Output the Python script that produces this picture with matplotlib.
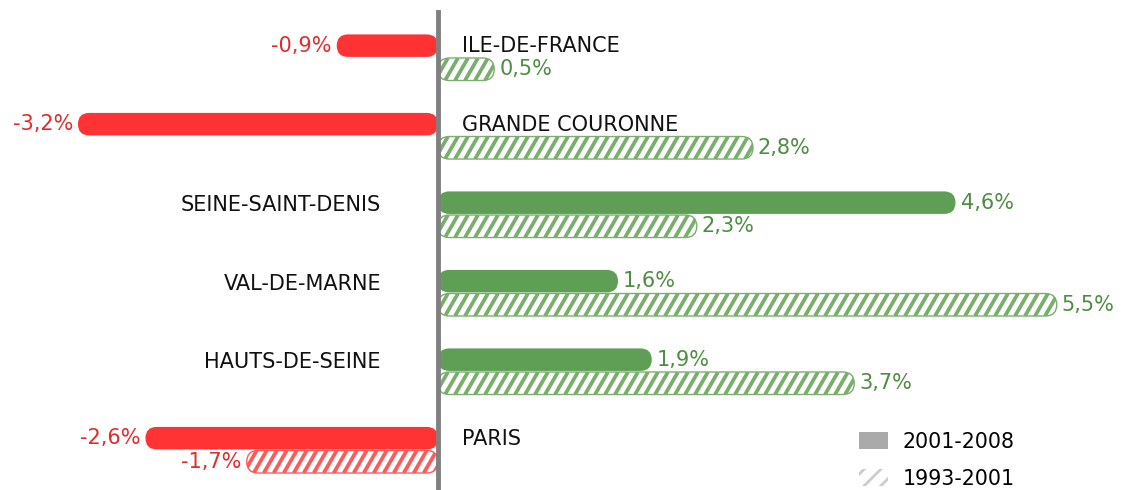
import matplotlib
matplotlib.use('Agg')
import numpy as np
import matplotlib.pyplot as plt
from matplotlib.patches import FancyBboxPatch, Patch
from matplotlib.collections import LineCollection

# donnees
categories = ['ILE-DE-FRANCE', 'GRANDE COURONNE', 'SEINE-SAINT-DENIS',
              'VAL-DE-MARNE', 'HAUTS-DE-SEINE', 'PARIS']
v_2001_2008 = [-0.9, -3.2, 4.6, 1.6, 1.9, -2.6]
v_1993_2001 = [0.5, 2.8, 2.3, 5.5, 3.7, -1.7]
legend_labels = ['2001-2008', '1993-2001']

RED = '#ff3333'
RED_TXT = '#e22b2b'
RED_H = '#ff5a5a'
GREEN = '#5f9e55'
GREEN_TXT = '#4f8c43'
GREEN_H = '#79ae6c'

W, H, DPI = 1121, 490, 100

plt.rcParams['font.family'] = ['DejaVu Sans']
plt.rcParams['hatch.linewidth'] = 2.0

fig = plt.figure(figsize=(W / DPI, H / DPI), dpi=DPI)
ax = fig.add_axes([0, 0, 1, 1])
ax.set_xlim(-3.893, 6.071)
ax.set_ylim(5.51, -0.732)
ax.axis('off')

px_x = W / (6.071 + 3.893)
px_y = H / (5.51 + 0.732)
asp = px_x / px_y
bh = 22.5 / px_y       # hauteur barre
off = 11.8 / px_y      # decalage des deux series
rad = bh / 2 / asp     # rayon en unites x
FS = 15

# rayures : pas de 10 px, pente ~60 degres
STEP = 10 / px_x
SLANT = (22.5 / np.tan(np.radians(60))) / px_x


def rbar(y, v, face, edge, striped=False):
    p = FancyBboxPatch((min(0, v), y - bh / 2), abs(v), bh,
                       boxstyle='round,pad=0,rounding_size=%f' % rad,
                       mutation_aspect=asp, facecolor=face,
                       edgecolor=edge, linewidth=1.0, zorder=2)
    ax.add_patch(p)
    if striped:
        x0 = min(0, v)
        xs = np.arange(x0 - SLANT, x0 + abs(v) + STEP, STEP)
        segs = [[(x, y + bh / 2), (x + SLANT, y - bh / 2)] for x in xs]
        lc = LineCollection(segs, colors=edge, linewidths=2.7, zorder=3)
        lc.set_clip_path(p)
        ax.add_collection(lc)


def vlabel(y, v):
    txt = ('%.1f%%' % v).replace('.', ',')
    gap = 5 / px_x
    if v < 0:
        ax.text(v - gap, y, txt, ha='right', va='center', fontsize=FS, color=RED_TXT)
    else:
        ax.text(v + gap, y, txt, ha='left', va='center', fontsize=FS, color=GREEN_TXT)


for i, cat in enumerate(categories):
    a = v_2001_2008[i]
    b = v_1993_2001[i]
    y1 = i - off
    y2 = i + off
    rbar(y1, a, RED if a < 0 else GREEN, 'none')
    rbar(y2, b, 'white', RED_H if b < 0 else GREEN_H, striped=True)
    vlabel(y1, a)
    vlabel(y2, b)
    if a < 0:
        ax.text(24 / px_x, i - 0.14, cat, ha='left', va='center', fontsize=FS, color='#111111')
    else:
        ax.text(-57 / px_x, i - 0.12, cat, ha='right', va='center', fontsize=FS, color='#111111')

ax.axvline(0, ymin=0.003, ymax=0.975, color='#808080', linewidth=3.5, zorder=5)

handles = [Patch(facecolor='#aaaaaa', edgecolor='none'),
           Patch(facecolor='white', edgecolor='#cccccc', hatch='//', linewidth=0)]
ax.legend(handles, legend_labels, loc='lower left', bbox_to_anchor=(0.765, 0.0),
          frameon=False, fontsize=14.8, handlelength=1.45, handleheight=0.9,
          handletextpad=0.7, labelspacing=0.85, borderpad=0, borderaxespad=0.05)

fig.savefig('out.png', dpi=DPI)
